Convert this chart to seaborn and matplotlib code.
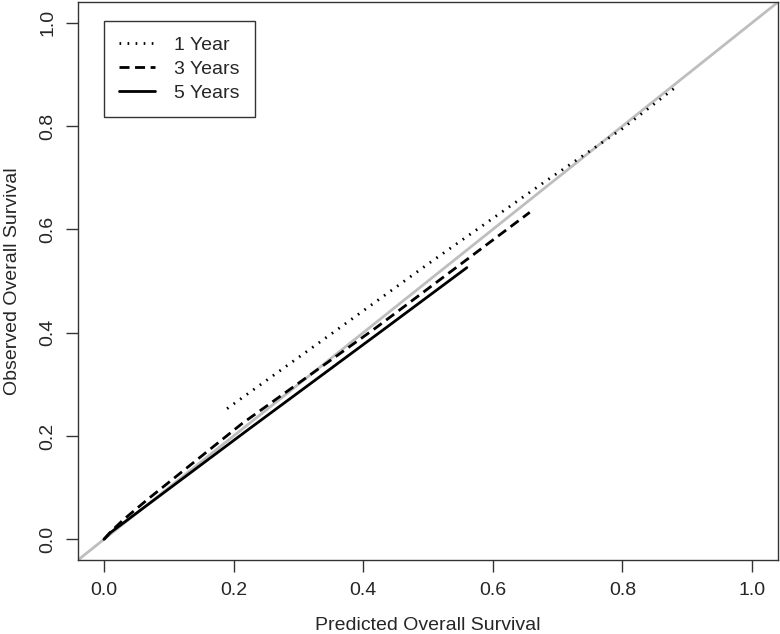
import seaborn as sns
import matplotlib.pyplot as plt
import numpy as np
import pandas as pd

# calibration curves
x_1yr = [0.19, 0.35, 0.50, 0.68, 0.80, 0.885]
y_1yr = [0.253, 0.397, 0.533, 0.692, 0.795, 0.878]

x_3yr = [0.0, 0.01, 0.03, 0.07, 0.213, 0.418, 0.657]
y_3yr = [0.0, 0.014, 0.038, 0.080, 0.224, 0.408, 0.633]

x_5yr = [0.0, 0.01, 0.22, 0.426, 0.56]
y_5yr = [0.0, 0.013, 0.210, 0.401, 0.526]

labels = ["1 Year", "3 Years", "5 Years"]
ticks = [0.0, 0.2, 0.4, 0.6, 0.8, 1.0]

sns.set_style("white")
plt.rcParams["font.family"] = ["Liberation Sans", "DejaVu Sans"]

fig = plt.figure(figsize=(7.8, 6.34), dpi=100)
ax = fig.add_axes([0.1, 0.1167, 0.8974, 0.88])

# reference diagonal
ax.plot([-0.1, 1.1], [-0.1, 1.1], color="#bebebe", lw=2, zorder=1)

df1 = pd.DataFrame({"x": x_1yr, "y": y_1yr})
df3 = pd.DataFrame({"x": x_3yr, "y": y_3yr})
df5 = pd.DataFrame({"x": x_5yr, "y": y_5yr})

sns.lineplot(data=df1, x="x", y="y", ax=ax, color="black", lw=2,
             linestyle=(0, (0.6, 2.3)), sort=False, label=labels[0])
sns.lineplot(data=df3, x="x", y="y", ax=ax, color="black", lw=2,
             linestyle=(0, (3.6, 2.0)), sort=False, label=labels[1])
sns.lineplot(data=df5, x="x", y="y", ax=ax, color="black", lw=2,
             sort=False, label=labels[2])

ax.set_xlim(-0.04, 1.04)
ax.set_ylim(-0.04, 1.04)
ax.set_xticks(ticks)
ax.set_yticks(ticks)
ax.set_xticklabels([f"{t:.1f}" for t in ticks], fontsize=14)
ax.set_yticklabels([f"{t:.1f}" for t in ticks], fontsize=14, rotation=90, va="center")
ax.tick_params(axis="both", direction="out", length=8.6, width=1, color="#333333",
               bottom=True, left=True, pad=7)

for s in ax.spines.values():
    s.set_color("#333333")
    s.set_linewidth(1)

ax.set_xlabel("Predicted Overall Survival", fontsize=14, labelpad=13)
ax.set_ylabel("Observed Overall Survival", fontsize=14, labelpad=13)

leg = ax.legend(loc="upper left", bbox_to_anchor=(0.037, 0.966), borderaxespad=0,
                fontsize=14, frameon=True, fancybox=False, edgecolor="black",
                handlelength=1.85, borderpad=0.8, labelspacing=0.32,
                handletextpad=0.93)
leg.get_frame().set_linewidth(1)

plt.savefig("out.png", dpi=100)
